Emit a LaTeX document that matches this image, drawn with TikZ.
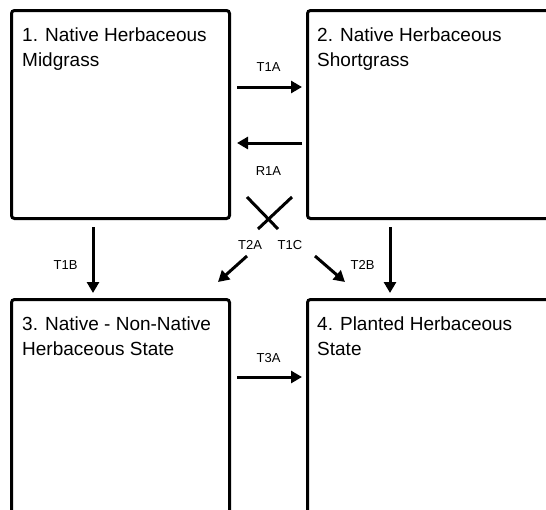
\documentclass[tikz,border=0pt]{standalone}
\usepackage{fontspec}
\setmainfont{Liberation Sans}
\usetikzlibrary{arrows.meta}

\begin{document}
\begin{tikzpicture}[x=1pt,y=-1pt,
  statebox/.style={draw,line width=3pt,rounded corners=3pt,inner sep=0pt,
    minimum width=218pt,minimum height=208pt},
  wide/.style={minimum width=250pt},
  tall/.style={minimum height=220pt},
  boxtitle/.style={anchor=north west,inner sep=0pt,align=left,
    font=\fontsize{19}{25}\selectfont},
  trans/.style={line width=3pt,-{Triangle[length=11pt,width=12pt]}},
  plain/.style={line width=3pt},
  code/.style={inner sep=0pt,font=\fontsize{13}{15}\selectfont}]
\useasboundingbox (0,0) rectangle (546,509);
\clip (0,0) rectangle (546,509);
% states
\node[statebox] (s1) at (120.5,114.5) {};
\node[statebox,wide] (s2) at (432.5,114.5) {};
\node[statebox,tall] (s3) at (120.5,409.5) {};
\node[statebox,wide,tall] (s4) at (432.5,409.5) {};
\node[boxtitle] (t1) at ([xshift=12pt,yshift=-19pt]s1.north west) {1. Native Herbaceous\\Midgrass};
\node[boxtitle] (t2) at ([xshift=11pt,yshift=-19pt]s2.north west) {2. Native Herbaceous\\Shortgrass};
\node[boxtitle] (t3) at ([xshift=12pt,yshift=-19pt]s3.north west) {3. Native - Non-Native\\Herbaceous State};
\node[boxtitle] (t4) at ([xshift=11pt,yshift=-19pt]s4.north west) {4. Planted Herbaceous\\State};
% transitions
\draw[trans,shorten <=6pt,shorten >=4pt] ([yshift=27.5pt]s1.east) -- ([yshift=27.5pt]s2.west)
  node[code,midway,above=14pt] (l1a) {T1A};
\draw[trans,shorten <=4pt,shorten >=6pt] ([yshift=-28.5pt]s2.west) -- ([yshift=-28.5pt]s1.east)
  node[code,midway,below=22pt] (r1a) {R1A};
\draw[trans,shorten <=6pt,shorten >=4pt] ([yshift=32.5pt]s3.east) -- ([yshift=32.5pt]s4.west)
  node[code,midway,above=13pt] (l3a) {T3A};
\draw[trans,shorten <=7pt,shorten >=5pt] ([xshift=-27.5pt]s1.south) -- ([xshift=-27.5pt]s3.north)
  node[code,pos=0.58,left=14pt] (l1b) {T1B};
\draw[trans,shorten <=7pt,shorten >=5pt] ([xshift=-42.5pt]s2.south) -- ([xshift=-42.5pt]s4.north)
  node[code,pos=0.58,left=14pt] (l2b) {T2B};
% crossing ones
\coordinate (c1a) at (247,197);
\coordinate (c1b) at (278,229);
\coordinate (c1c) at (315,256);
\coordinate (c1d) at (345,282);
\coordinate (c2a) at (292,197);
\coordinate (c2b) at (258,229);
\coordinate (c2c) at (247,256);
\coordinate (c2d) at (218,282);
\draw[plain] (c1a) -- (c1b);
\draw[trans] (c1c) -- (c1d);
\draw[plain] (c2a) -- (c2b);
\draw[trans] (c2c) -- (c2d);
\node[code] (l2a) at (250,245) {T2A};
\node[code] (l1c) at (290,245) {T1C};
\end{tikzpicture}
\end{document}
